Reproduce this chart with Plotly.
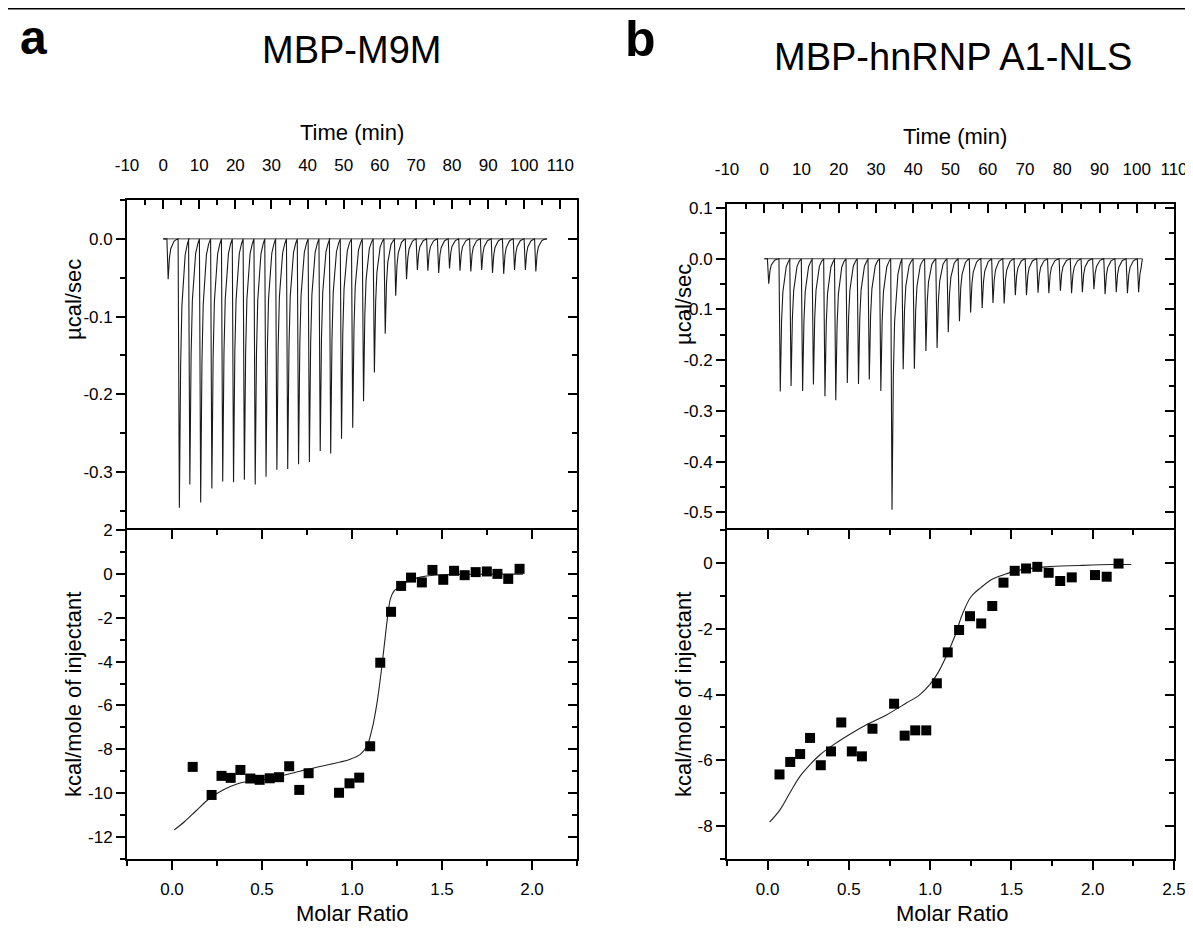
import plotly.graph_objects as go

# the page puts the figure 8 px in from the top-left corner, so the figure is
# sized to fit the window and all positions below are given in window pixels
PAGE_W, PAGE_H = 1193, 935
PAD = 8
W, H = PAGE_W - PAD, PAGE_H - 2 * PAD
FONT = "Arial, 'Liberation Sans', Helvetica, sans-serif"

# ---------------- panel a : MBP-M9M ----------------
# raw thermogram: time of each injection peak (min) and peak minimum (ucal/sec)
A_INJ_TIME = [1.4, 4.5, 7.4, 10.4, 13.5, 16.5, 19.5, 22.5, 25.5, 28.5, 31.5, 34.5,
              37.5, 40.5, 43.5, 46.4, 49.4, 52.5, 55.5, 58.5, 61.5, 64.4, 67.4, 70.4,
              73.3, 76.3, 79.3, 82.2, 85.2, 88.2, 91.2, 94.3, 97.3, 100.3, 103.2]
A_INJ_PEAK = [-0.052, -0.346, -0.316, -0.339, -0.321, -0.312, -0.313, -0.310, -0.316,
              -0.306, -0.297, -0.296, -0.290, -0.287, -0.273, -0.276, -0.257, -0.243,
              -0.209, -0.172, -0.122, -0.073, -0.052, -0.040, -0.041, -0.044, -0.038,
              -0.041, -0.042, -0.040, -0.044, -0.045, -0.040, -0.040, -0.042]
A_RUN = [0.0, 106.3]

# integrated heats
A_MR = [0.115, 0.220, 0.275, 0.326, 0.380, 0.435, 0.487, 0.543, 0.595, 0.651, 0.707,
        0.759, 0.928, 0.986, 1.040, 1.101, 1.157, 1.217, 1.273, 1.328, 1.388, 1.447,
        1.507, 1.567, 1.626, 1.687, 1.749, 1.808, 1.868, 1.931]
A_HEAT = [-8.80, -10.08, -9.21, -9.30, -8.94, -9.33, -9.39, -9.32, -9.27, -8.77, -9.85,
          -9.09, -9.98, -9.55, -9.29, -7.86, -4.05, -1.73, -0.55, -0.17, -0.39, 0.18,
          -0.27, 0.14, -0.06, 0.08, 0.11, 0.00, -0.23, 0.23]
A_FIT_MR = [0.013, 0.069, 0.134, 0.208, 0.283, 0.357, 0.413, 0.487, 0.599, 0.711, 0.822,
            0.934, 0.990, 1.046, 1.083, 1.111, 1.139, 1.166, 1.185, 1.198, 1.213, 1.232,
            1.260, 1.306, 1.380, 1.455, 1.650, 1.950]
A_FIT_HEAT = [-11.67, -11.30, -10.80, -10.24, -9.85, -9.59, -9.48, -9.42, -9.22, -9.00,
              -8.78, -8.58, -8.45, -8.23, -7.85, -7.09, -5.88, -4.21, -2.85, -1.94, -1.15,
              -0.80, -0.61, -0.35, -0.15, -0.06, -0.02, -0.01]

# ---------------- panel b : MBP-hnRNP A1-NLS ----------------
B_INJ_TIME = [1.2, 4.3, 7.2, 10.3, 13.2, 16.3, 19.2, 22.3, 25.3, 28.2, 31.3, 34.3, 37.3,
              40.3, 43.4, 46.4, 49.4, 52.4, 55.4, 58.5, 61.4, 64.4, 67.4, 70.4, 73.5,
              76.4, 79.5, 82.5, 85.4, 88.5, 91.5, 94.5, 97.5, 100.5]
B_INJ_PEAK = [-0.049, -0.262, -0.251, -0.261, -0.248, -0.271, -0.279, -0.245, -0.247,
              -0.238, -0.261, -0.495, -0.218, -0.217, -0.182, -0.176, -0.145, -0.123,
              -0.106, -0.097, -0.087, -0.088, -0.072, -0.072, -0.067, -0.068, -0.063,
              -0.068, -0.066, -0.060, -0.070, -0.066, -0.068, -0.066]
B_RUN = [0.0, 101.5]

B_MR = [0.073, 0.139, 0.200, 0.261, 0.327, 0.390, 0.453, 0.518, 0.580, 0.645, 0.778,
        0.843, 0.908, 0.976, 1.041, 1.108, 1.178, 1.245, 1.314, 1.382, 1.451, 1.520,
        1.590, 1.659, 1.729, 1.800, 1.871, 2.014, 2.086, 2.159]
B_HEAT = [-6.43, -6.05, -5.81, -5.32, -6.15, -5.73, -4.85, -5.73, -5.88, -5.04, -4.28,
          -5.25, -5.09, -5.09, -3.66, -2.72, -2.04, -1.62, -1.84, -1.31, -0.60, -0.24,
          -0.17, -0.12, -0.30, -0.55, -0.44, -0.37, -0.42, -0.02]
B_FIT_MR = [0.012, 0.078, 0.139, 0.200, 0.261, 0.322, 0.404, 0.486, 0.608, 0.731, 0.853,
            0.935, 0.996, 1.047, 1.098, 1.149, 1.200, 1.251, 1.312, 1.384, 1.465, 1.527,
            1.710, 1.914, 2.118, 2.237]
B_FIT_HEAT = [-7.88, -7.49, -6.97, -6.48, -6.13, -5.83, -5.53, -5.27, -4.92, -4.62, -4.26,
              -4.01, -3.71, -3.35, -2.85, -2.26, -1.54, -1.03, -0.75, -0.49, -0.34, -0.24,
              -0.12, -0.08, -0.05, -0.05]

# tick values
TIME_TICKS = [-10, 0, 10, 20, 30, 40, 50, 60, 70, 80, 90, 100, 110]
A_RAW_TICKS = [0.0, -0.1, -0.2, -0.3]
B_RAW_TICKS = [0.1, 0.0, -0.1, -0.2, -0.3, -0.4, -0.5]
A_KCAL_TICKS = [2, 0, -2, -4, -6, -8, -10, -12]
B_KCAL_TICKS = [0, -2, -4, -6, -8]
A_MR_TICKS = [0.0, 0.5, 1.0, 1.5, 2.0]
B_MR_TICKS = [0.0, 0.5, 1.0, 1.5, 2.0, 2.5]

# shape of a single injection spike (time offset, fraction of the peak)
SPIKE_DT = [-0.35, 0.0, 0.15, 0.35, 0.7, 1.1, 1.6, 2.2, 2.65]
SPIKE_FRAC = [0.0, 1.0, 0.7, 0.47, 0.25, 0.15, 0.06, 0.02, 0.0]


def px_x(p):
    return (p - PAD) / W


def px_y(p):
    return 1 - (p - PAD) / H


def thermogram(times, peaks, run):
    xs, ys = [run[0]], [0.0]
    for t, p in zip(times, peaks):
        for dt, f in zip(SPIKE_DT, SPIKE_FRAC):
            if t + dt <= run[1]:
                xs.append(t + dt)
                ys.append(p * f)
    xs.append(run[1])
    ys.append(0.0)
    return xs, ys


def ref(letter, i):
    return letter if i == 1 else f"{letter}{i}"


def name(letter, i):
    return f"{letter}axis" if i == 1 else f"{letter}axis{i}"


def axis(**kw):
    d = dict(showline=True, linecolor="black", linewidth=1.8, showgrid=False,
             zeroline=False, tickcolor="black", tickwidth=1.5, ticklen=9,
             automargin=False, fixedrange=True,
             tickfont=dict(family=FONT, size=17, color="black"))
    d.update(kw)
    return d


def minor(ticks, dtick):
    return dict(ticks=ticks, ticklen=5, tickwidth=1.5, tickcolor="black",
                tickmode="linear", tick0=0, dtick=dtick, showgrid=False)


def fmt(vals, nd):
    return [f"{v:.{nd}f}" for v in vals]


fig = go.Figure()


def add_panel(k, xpx, ytop_px, ymid_px, ybot_px, time_rng, raw_rng, raw_ticks,
              mr_rng, mr_ticks, kcal_rng, kcal_ticks, inj_t, inj_p, run,
              mr, heat, fit_mr, fit_heat):
    xt, xb, xo = 3 * k + 1, 3 * k + 2, 3 * k + 3
    yr, yrr, yk, ykr = 4 * k + 1, 4 * k + 2, 4 * k + 3, 4 * k + 4
    xdom = [px_x(xpx[0]), px_x(xpx[1])]
    dom_top = [px_y(ymid_px), px_y(ytop_px)]
    dom_bot = [px_y(ybot_px), px_y(ymid_px)]

    fig.layout[name("x", xt)] = axis(
        domain=xdom, anchor=ref("y", yr), side="top", range=time_rng, ticks="inside",
        tickmode="array", tickvals=TIME_TICKS, ticktext=[str(v) for v in TIME_TICKS],
        minor=minor("inside", 5), ticklabelstandoff=20)
    fig.layout[name("y", yr)] = axis(
        domain=dom_top, anchor=ref("x", xt), range=raw_rng, ticks="outside",
        tickmode="array", tickvals=raw_ticks, ticktext=fmt(raw_ticks, 1),
        minor=minor("outside", 0.05))
    fig.layout[name("y", yrr)] = axis(
        overlaying=ref("y", yr), anchor=ref("x", xt), side="right", range=raw_rng,
        ticks="inside", tickmode="array", tickvals=raw_ticks, showticklabels=False,
        minor=minor("inside", 0.05))
    fig.layout[name("x", xb)] = axis(
        domain=xdom, anchor=ref("y", yk), range=mr_rng, ticks="outside",
        tickmode="array", tickvals=mr_ticks, ticktext=fmt(mr_ticks, 1),
        minor=minor("outside", 0.25), ticklabelstandoff=5)
    fig.layout[name("x", xo)] = axis(
        overlaying=ref("x", xb), anchor=ref("y", yk), side="top", range=mr_rng,
        ticks="inside", tickmode="array", tickvals=mr_ticks, showticklabels=False,
        minor=minor("inside", 0.25))
    fig.layout[name("y", yk)] = axis(
        domain=dom_bot, anchor=ref("x", xb), range=kcal_rng, ticks="outside",
        tickmode="array", tickvals=kcal_ticks, ticktext=[str(v) for v in kcal_ticks],
        minor=minor("outside", 1))
    fig.layout[name("y", ykr)] = axis(
        overlaying=ref("y", yk), anchor=ref("x", xb), side="right", range=kcal_rng,
        ticks="inside", tickmode="array", tickvals=kcal_ticks, showticklabels=False,
        minor=minor("inside", 1))

    # raw data
    tx, ty = thermogram(inj_t, inj_p, run)
    fig.add_trace(go.Scatter(x=run, y=[0, 0], mode="lines",
                             line=dict(color="#444444", width=1),
                             xaxis=ref("x", xt), yaxis=ref("y", yr), hoverinfo="skip"))
    fig.add_trace(go.Scatter(x=tx, y=ty, mode="lines",
                             line=dict(color="#1a1a1a", width=1.1),
                             xaxis=ref("x", xt), yaxis=ref("y", yr)))
    # integrated heats + fit
    fig.add_trace(go.Scatter(x=fit_mr, y=fit_heat, mode="lines",
                             line=dict(color="#222222", width=1.1, shape="spline"),
                             xaxis=ref("x", xb), yaxis=ref("y", yk)))
    fig.add_trace(go.Scatter(x=mr, y=heat, mode="markers",
                             marker=dict(symbol="square", size=10, color="black"),
                             xaxis=ref("x", xb), yaxis=ref("y", yk)))
    # invisible anchors so the mirrored axes get drawn
    for xa, ya, xr, yrng in [(xt, yrr, time_rng, raw_rng), (xo, yk, mr_rng, kcal_rng),
                             (xb, ykr, mr_rng, kcal_rng)]:
        fig.add_trace(go.Scatter(x=[sum(xr) / 2], y=[sum(yrng) / 2], mode="markers",
                                 marker=dict(opacity=0), hoverinfo="skip",
                                 xaxis=ref("x", xa), yaxis=ref("y", ya)))


add_panel(0, [127, 577], 200, 530, 859, [-10, 114.6], [-0.3745, 0.05], A_RAW_TICKS,
          [-0.25, 2.25], A_MR_TICKS, [-13, 2.0001], A_KCAL_TICKS,
          A_INJ_TIME, A_INJ_PEAK, A_RUN, A_MR, A_HEAT, A_FIT_MR, A_FIT_HEAT)
add_panel(1, [727, 1174], 204, 530, 859, [-10, 110.001], [-0.535, 0.108], B_RAW_TICKS,
          [-0.25, 2.5001], B_MR_TICKS, [-9, 1], B_KCAL_TICKS,
          B_INJ_TIME, B_INJ_PEAK, B_RUN, B_MR, B_HEAT, B_FIT_MR, B_FIT_HEAT)


def label(text, x, y, size, angle=0, bold=False, yanchor="middle"):
    fig.add_annotation(text=f"<b>{text}</b>" if bold else text, x=px_x(x), y=px_y(y),
                       xref="paper", yref="paper", showarrow=False, textangle=angle,
                       xanchor="center", yanchor=yanchor,
                       font=dict(family=FONT, size=size, color="black"))


label("a", 33, 9, 48, bold=True, yanchor="top")
label("b", 640, 9, 50, bold=True, yanchor="top")
label("MBP-M9M", 352, 50, 38)
label("MBP-hnRNP A1-NLS", 953, 57, 38)
label("Time (min)", 352, 132, 22)
label("Time (min)", 955, 137, 22)
label("µcal/sec", 73, 300, 22, angle=-90)
label("µcal/sec", 683, 305, 22, angle=-90)
label("kcal/mole of injectant", 73, 695, 22, angle=-90)
label("kcal/mole of injectant", 683, 695, 22, angle=-90)
label("Molar Ratio", 352, 913, 22)
label("Molar Ratio", 952, 913, 22)

# thin rule along the top edge
fig.add_shape(type="line", xref="paper", yref="paper", x0=0, x1=1, y0=1, y1=1,
              line=dict(color="black", width=3))

fig.update_layout(width=W, height=H, autosize=False, showlegend=False,
                  margin=dict(l=0, r=0, t=0, b=0, autoexpand=False),
                  paper_bgcolor="white", plot_bgcolor="white",
                  font=dict(family=FONT, color="black"))

fig.write_html("out.html")
